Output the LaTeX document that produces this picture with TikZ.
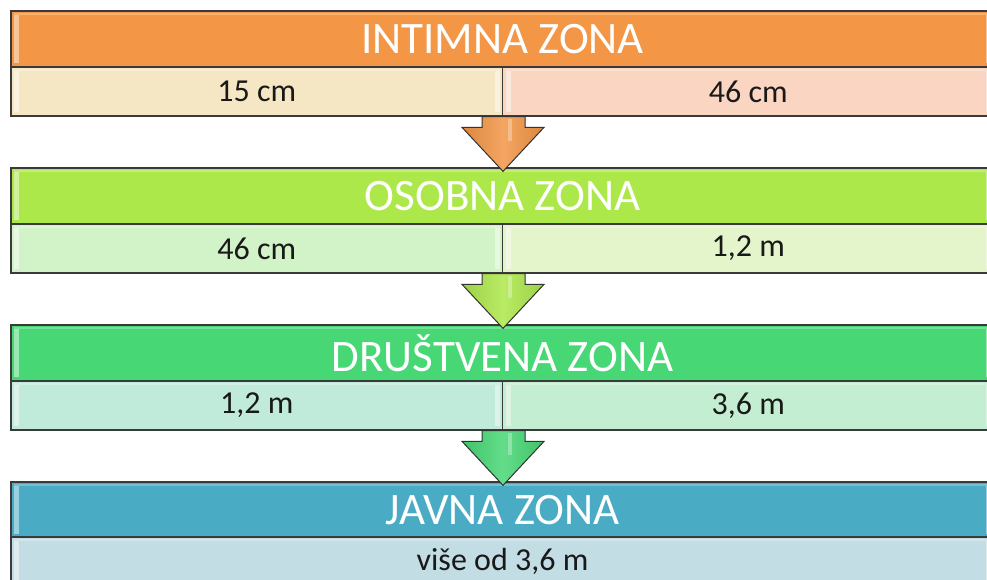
\documentclass[tikz,border=0pt]{standalone}
\usepackage{fontspec}
\setmainfont{Carlito}
\usetikzlibrary{calc}
\definecolor{hOr}{HTML}{F39646}
\definecolor{s1L}{HTML}{F6E7C4}
\definecolor{s1R}{HTML}{FAD6C2}
\definecolor{hLi}{HTML}{ADE84B}
\definecolor{s2L}{HTML}{D2F3C7}
\definecolor{s2R}{HTML}{E4F4CB}
\definecolor{hGr}{HTML}{48D775}
\definecolor{s3L}{HTML}{C0EAD9}
\definecolor{s3R}{HTML}{C4EED1}
\definecolor{hBl}{HTML}{4AABC5}
\definecolor{s4}{HTML}{C3DDE4}
\definecolor{edge}{HTML}{3A3A3A}
\tikzset{
  bevel/.style={path picture={
      \fill[white,opacity=.45] ([xshift=3pt,yshift=-4pt]path picture bounding box.north west) rectangle ([xshift=8pt,yshift=4pt]path picture bounding box.south west);
      \fill[white,opacity=.45] ([xshift=-3pt,yshift=-4pt]path picture bounding box.north east) rectangle ([xshift=-8pt,yshift=4pt]path picture bounding box.south east);
      \fill[white,opacity=.25] ([xshift=3pt,yshift=-2pt]path picture bounding box.north west) rectangle ([xshift=-3pt,yshift=-4pt]path picture bounding box.north east);
  }},
  hdr/.style={bevel, draw=edge, line width=1.3pt, minimum width=983pt, minimum height=56pt, inner sep=0pt, text=white, font=\fontsize{45}{45}\selectfont},
  cell/.style={bevel, draw=edge, line width=1.3pt, minimum width=491.5pt, minimum height=49pt, inner sep=0pt, text=black!90, font=\fontsize{32}{32}\selectfont},
  wide/.style={cell, minimum width=983pt},
  arr/.style={draw=black!80, line width=1pt, line join=miter},
}
\begin{document}
\begin{tikzpicture}[x=1pt,y=-1pt]
\useasboundingbox (0,0) rectangle (987,580);
\clip (0,0) rectangle (987,580);
% band 1
\node[hdr, fill=hOr] (h1) at (502.5,39) {INTIMNA ZONA};
\node[cell, fill=s1L] (c1l) at (256.75,91.5) {15 cm};
\node[cell, fill=s1R] (c1r) at (748.25,91.5) {46 cm};
% band 2
\node[hdr, fill=hLi] (h2) at (502.5,196) {OSOBNA ZONA};
\node[cell, fill=s2L] (c2l) at (256.75,248.5) {46 cm};
\node[cell, fill=s2R] (c2r) at (748.25,248.5) {1,2 m};
% band 3
\node[hdr, fill=hGr] (h3) at (502.5,353) {DRUŠTVENA ZONA};
\node[cell, fill=s3L] (c3l) at (256.75,405.5) {1,2 m};
\node[cell, fill=s3R] (c3r) at (748.25,405.5) {3,6 m};
% band 4
\node[hdr, fill=hBl] (h4) at (502.5,510) {JAVNA ZONA};
\node[wide, fill=s4] (c4) at (502.5,561.5) {više od 3,6 m};
% arrows
\foreach \a/\b/\col in {c1l/h2/hOr, c2l/h3/hLi, c3l/h4/hGr}{
  \coordinate (s) at (\a.south east);
  \coordinate (t) at ($(\b.north)+(0.5,4)$);
  \draw[arr, left color=\col!90!black, right color=\col!90!black, middle color=\col!85!white]
    ($(s)+(-21,0)$) -- ($(s)+(22,0)$) -- ($(t)+(22,-44)$) -- ($(t)+(41,-44)$) -- (t)
    -- ($(t)+(-41,-44)$) -- ($(t)+(-21,-44)$) -- cycle;
  \fill[white, opacity=.3] ($(s)+(5,2)$) rectangle ($(t)+(9,-30)$);
}
\end{tikzpicture}
\end{document}
